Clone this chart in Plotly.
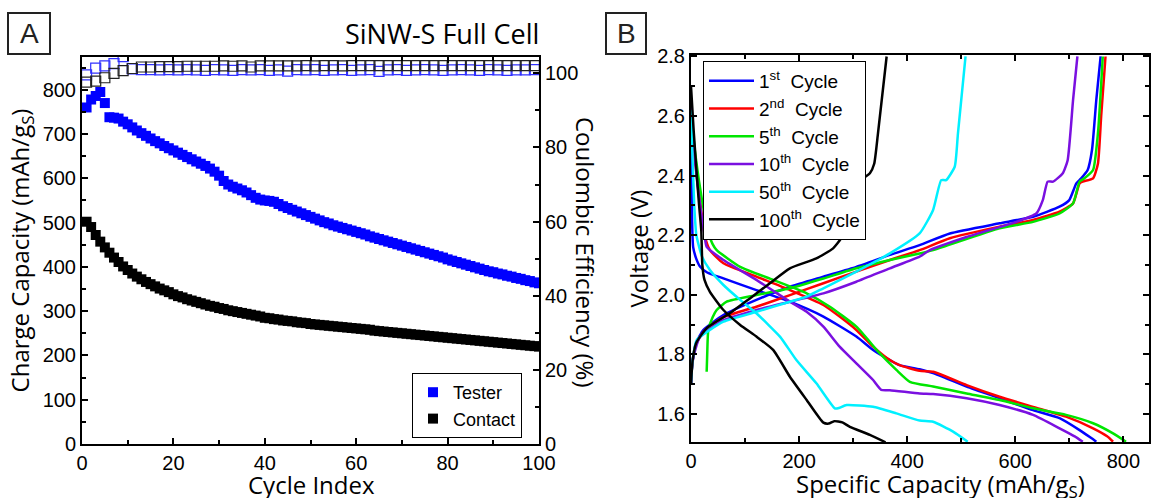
import plotly.graph_objects as go

W, H = 1151, 498

# ---------------- Panel A data ----------------
cycles = list(range(1, 101))
tester_capacity = [
    760, 778, 786, 795, 770, 738, 737, 735, 728, 722,
    715, 708, 702, 696, 690, 684, 679, 673, 668, 663,
    658, 653, 648, 643, 638, 633, 628, 622, 615, 606,
    594, 586, 581, 577, 573, 568, 562, 556, 552, 550,
    549, 547, 542, 537, 533, 529, 525, 521, 517, 513,
    509, 505, 501, 498, 494, 491, 488, 485, 482, 479,
    476, 473, 469, 466, 463, 460, 457, 454, 451, 448,
    445, 442, 439, 436, 433, 430, 427, 424, 421, 417,
    414, 411, 408, 405, 402, 399, 396, 393, 390, 388,
    385, 383, 380, 378, 375, 373, 370, 368, 365, 363,
]
contact_capacity = [
    502, 490, 472, 457, 444, 432, 421, 411, 401, 393,
    385, 378, 372, 366, 361, 356, 351, 347, 343, 338,
    334, 331, 327, 324, 321, 318, 315, 312, 310, 307,
    305, 302, 300, 298, 296, 294, 292, 290, 288, 285,
    284, 282, 281, 279, 278, 277, 275, 274, 273, 271,
    270, 269, 268, 267, 266, 265, 264, 263, 262, 261,
    260, 259, 258, 256, 255, 254, 253, 252, 251, 250,
    249, 248, 247, 246, 245, 244, 243, 242, 241, 240,
    239, 238, 237, 236, 235, 234, 233, 232, 231, 230,
    229, 228, 227, 226, 225, 224, 223, 222, 221, 220,
]
ce_cycles = list(range(1, 101, 2))
tester_ce = [
    99.6, 101.4, 102.0, 102.6, 104.5, 101.2, 101.0, 101.0, 100.9, 101.0,
    100.9, 101.0, 100.9, 100.8, 101.0, 100.9, 100.8, 101.0, 100.9, 101.0,
    100.8, 100.9, 100.6, 101.0, 100.9, 101.0, 100.8, 100.9, 101.0, 100.8,
    100.9, 101.0, 100.5, 100.9, 101.0, 100.8, 100.9, 101.0, 100.9, 100.8,
    100.9, 101.0, 100.9, 100.8, 101.0, 100.9, 100.8, 100.9, 100.9, 101.0,
]
contact_ce = [
    97.6, 97.9, 98.8, 100.0, 100.7, 101.3, 101.7, 101.7, 101.8, 101.8,
    101.8, 101.9, 101.9, 101.9, 101.9, 102.0, 101.9, 102.0, 101.7, 102.0,
    102.0, 102.0, 102.0, 102.0, 102.1, 102.0, 102.1, 102.1, 102.0, 102.1,
    102.1, 102.1, 102.1, 102.1, 102.1, 102.1, 102.1, 102.1, 102.1, 102.1,
    102.1, 102.1, 102.1, 102.1, 102.1, 102.1, 102.1, 102.1, 102.1, 102.1,
]

# ---------------- Panel B data (voltage profiles) ----------------
c1_dis_cap = [0, 1, 2, 4, 10, 17, 30, 60, 121, 183, 245, 306, 337, 368, 386, 423, 448, 510, 571, 633, 682, 719, 740, 750]
c1_dis_v = [2.65, 2.45, 2.25, 2.16, 2.12, 2.094, 2.075, 2.055, 2.016, 1.977, 1.927, 1.86, 1.815, 1.781, 1.764, 1.75, 1.737, 1.692, 1.653, 1.613, 1.586, 1.546, 1.52, 1.507]
c1_chg_cap = [0, 1, 4.3, 10, 22.7, 60, 121, 183, 245, 306, 368, 423, 479, 571, 633, 682, 700, 713, 722, 734, 742, 750, 758]
c1_chg_v = [1.70, 1.74, 1.792, 1.84, 1.882, 1.932, 1.983, 2.027, 2.061, 2.094, 2.134, 2.167, 2.206, 2.24, 2.262, 2.296, 2.318, 2.374, 2.391, 2.419, 2.486, 2.654, 2.80]

c2_dis_cap = [0, 5, 12, 20, 26, 35, 60, 121, 183, 245, 275, 306, 337, 368, 386, 423, 448, 510, 571, 633, 694, 744, 770, 781]
c2_dis_v = [2.65, 2.50, 2.38, 2.27, 2.195, 2.15, 2.106, 2.061, 2.016, 1.966, 1.927, 1.882, 1.826, 1.781, 1.764, 1.745, 1.742, 1.697, 1.658, 1.624, 1.591, 1.552, 1.525, 1.507]
c2_chg_cap = [0, 2, 8, 25, 60, 121, 183, 245, 306, 368, 423, 479, 571, 633, 682, 707, 719, 725, 744, 753, 759, 767]
c2_chg_v = [1.70, 1.76, 1.83, 1.88, 1.925, 1.96, 1.999, 2.039, 2.078, 2.117, 2.15, 2.19, 2.229, 2.251, 2.279, 2.307, 2.374, 2.38, 2.391, 2.44, 2.60, 2.80]

c5_dis_cap = [0, 5, 15, 25, 31, 40, 47.5, 91, 152, 214, 257, 306, 349, 380, 405, 448, 510, 571, 633, 694, 744, 781, 805]
c5_dis_v = [2.65, 2.52, 2.38, 2.27, 2.217, 2.17, 2.15, 2.094, 2.05, 2.005, 1.96, 1.893, 1.804, 1.748, 1.708, 1.692, 1.669, 1.647, 1.619, 1.597, 1.569, 1.535, 1.507]
c5_chg_cap = [29, 30, 32, 40, 47.5, 66, 121, 183, 245, 306, 368, 423, 448, 571, 633, 682, 707, 719, 728, 744, 753, 762]
c5_chg_v = [1.742, 1.80, 1.882, 1.925, 1.949, 1.977, 1.999, 2.022, 2.055, 2.089, 2.117, 2.139, 2.15, 2.223, 2.245, 2.273, 2.307, 2.38, 2.391, 2.419, 2.542, 2.80]

c10_dis_cap = [0, 5, 12, 20, 25, 29, 60, 121, 183, 214, 245, 275, 306, 337, 352, 368, 423, 448, 510, 571, 633, 682, 710, 725]
c10_dis_v = [2.65, 2.50, 2.37, 2.26, 2.20, 2.161, 2.117, 2.05, 1.977, 1.943, 1.893, 1.826, 1.77, 1.714, 1.681, 1.68, 1.669, 1.667, 1.653, 1.63, 1.597, 1.552, 1.525, 1.507]
c10_chg_cap = [0, 3, 16.6, 60, 121, 183, 245, 306, 368, 423, 442, 510, 602, 639, 651, 660, 670, 688, 697, 707, 715]
c10_chg_v = [1.70, 1.78, 1.859, 1.915, 1.949, 1.977, 2.005, 2.044, 2.089, 2.128, 2.15, 2.194, 2.245, 2.273, 2.318, 2.38, 2.38, 2.408, 2.452, 2.654, 2.80]

c50_dis_cap = [0, 3, 6, 10, 20, 35, 60, 91, 121, 165, 195, 232, 266, 272, 288, 337, 380, 423, 448, 485, 512]
c50_dis_v = [2.62, 2.45, 2.30, 2.20, 2.13, 2.083, 2.033, 1.983, 1.938, 1.859, 1.781, 1.703, 1.619, 1.619, 1.63, 1.624, 1.602, 1.578, 1.574, 1.541, 1.507]
c50_chg_cap = [0, 3, 10.5, 60, 121, 183, 214, 245, 306, 368, 423, 448, 463, 472, 488, 494, 508]
c50_chg_v = [1.70, 1.78, 1.848, 1.91, 1.943, 1.977, 1.994, 2.022, 2.078, 2.139, 2.206, 2.285, 2.385, 2.385, 2.43, 2.542, 2.80]

c100_dis_cap = [0, 5, 10, 15, 19, 21, 25, 35, 60, 91, 121, 152, 183, 214, 245, 255, 265, 280, 294, 331, 360]
c100_dis_v = [2.70, 2.55, 2.42, 2.30, 2.217, 2.10, 2.05, 2.01, 1.949, 1.899, 1.86, 1.815, 1.725, 1.647, 1.571, 1.568, 1.576, 1.572, 1.557, 1.53, 1.505]
c100_chg_cap = [0, 3, 10, 30, 72, 109, 146, 183, 232, 263, 278, 283, 300, 315, 331, 339, 346, 362]
c100_chg_v = [1.70, 1.78, 1.84, 1.89, 1.938, 1.988, 2.039, 2.089, 2.122, 2.156, 2.19, 2.217, 2.307, 2.385, 2.408, 2.44, 2.542, 2.80]

cycle_labels = ["1<sup>st</sup>  Cycle", "2<sup>nd</sup>  Cycle", "5<sup>th</sup>  Cycle",
                "10<sup>th</sup>  Cycle", "50<sup>th</sup>  Cycle", "100<sup>th</sup>  Cycle"]
cycle_colors = ["#0000FF", "#FF0000", "#00E600", "#7A10E0", "#00F0FF", "#000000"]
profiles = [
    (c1_dis_cap, c1_dis_v, c1_chg_cap, c1_chg_v),
    (c2_dis_cap, c2_dis_v, c2_chg_cap, c2_chg_v),
    (c5_dis_cap, c5_dis_v, c5_chg_cap, c5_chg_v),
    (c10_dis_cap, c10_dis_v, c10_chg_cap, c10_chg_v),
    (c50_dis_cap, c50_dis_v, c50_chg_cap, c50_chg_v),
    (c100_dis_cap, c100_dis_v, c100_chg_cap, c100_chg_v),
]

TICKF = "Liberation Sans, Arial, sans-serif"
TITLEF = "Open Sans, sans-serif"

fig = go.Figure()

# CE (open squares) on right axis
fig.add_trace(go.Scatter(x=ce_cycles, y=tester_ce, mode="markers", xaxis="x", yaxis="y2",
                         marker=dict(symbol="square-open", size=10, color="#3030FF", line=dict(width=1.2)),
                         showlegend=False))
fig.add_trace(go.Scatter(x=ce_cycles, y=contact_ce, mode="markers", xaxis="x", yaxis="y2",
                         marker=dict(symbol="square-open", size=10, color="#222222", line=dict(width=1.2)),
                         showlegend=False))
# capacity
fig.add_trace(go.Scatter(x=cycles, y=tester_capacity, mode="markers", name="Tester", xaxis="x", yaxis="y",
                         marker=dict(symbol="square", size=10, color="#0000FF"), legend="legend"))
fig.add_trace(go.Scatter(x=cycles, y=contact_capacity, mode="markers", name="Contact", xaxis="x", yaxis="y",
                         marker=dict(symbol="square", size=10, color="#000000"), legend="legend"))

# Panel B
for (dc, dv, cc, cv), lab, col in zip(profiles, cycle_labels, cycle_colors):
    fig.add_trace(go.Scatter(x=list(dc) + [None] + list(cc), y=list(dv) + [None] + list(cv),
                             mode="lines", name=lab, xaxis="x2", yaxis="y3",
                             line=dict(color=col, width=2.5, shape="spline", smoothing=0.5),
                             legend="legend2"))

def px(x):
    return x / W

def py(y):
    return 1 - y / H

axis_common = dict(showline=True, linewidth=2, linecolor="black", showgrid=False, zeroline=False,
                   ticks="inside", tickwidth=2, ticklen=6, tickcolor="black", automargin=False,
                   tickfont=dict(family=TICKF, size=20, color="black"))
TS = 24

fig.update_layout(
    width=W, height=H, margin=dict(l=0, r=0, t=0, b=0, autoexpand=False),
    paper_bgcolor="white", plot_bgcolor="white",
    xaxis=dict(domain=[px(82), px(539)], range=[0, 100], dtick=20, anchor="y", mirror="ticks",
               minor=dict(dtick=10, ticks="inside", ticklen=4, tickwidth=2, tickcolor="black"),
               **axis_common),
    yaxis=dict(domain=[py(444), py(57)], range=[0, 874], dtick=100, anchor="x",
               minor=dict(dtick=50, ticks="inside", ticklen=4, tickwidth=2, tickcolor="black"),
               title=dict(text="Charge Capacity (mAh/g<sub>S</sub>)", font=dict(family=TITLEF, size=TS, color="black"), standoff=6),
               **axis_common),
    yaxis2=dict(domain=[py(444), py(57)], range=[0, 104.4], dtick=20, anchor="x", overlaying="y", side="right",
                minor=dict(dtick=10, ticks="inside", ticklen=4, tickwidth=2, tickcolor="black"),
                **axis_common),
    xaxis2=dict(domain=[px(691), px(1149)], range=[0, 847.5], dtick=200, anchor="y3", mirror="ticks",
                minor=dict(dtick=100, ticks="inside", ticklen=4, tickwidth=2, tickcolor="black"),
                **axis_common),
    yaxis3=dict(domain=[py(442), py(55)], range=[1.506, 2.805], tick0=1.6, dtick=0.2, anchor="x2", mirror="ticks",
                tickformat=".1f",
                minor=dict(dtick=0.1, tick0=1.5, ticks="inside", ticklen=4, tickwidth=2, tickcolor="black"),
                title=dict(text="Voltage (V)", font=dict(family=TITLEF, size=TS, color="black"), standoff=2),
                **axis_common),
    legend=dict(x=px(522), xanchor="right", y=py(373), yanchor="top", bgcolor="white",
                bordercolor="black", borderwidth=1, font=dict(family=TICKF, size=18, color="black"),
                itemsizing="trace", tracegroupgap=0),
    legend2=dict(x=px(703), xanchor="left", y=py(61), yanchor="top", bgcolor="white",
                 bordercolor="black", borderwidth=1, font=dict(family=TICKF, size=19, color="black"),
                 itemwidth=45, tracegroupgap=0),
    showlegend=True,
)

# x axis titles
fig.add_annotation(x=px(311), y=py(484), xref="paper", yref="paper", text="Cycle Index",
                   showarrow=False, xanchor="center", yanchor="middle",
                   font=dict(family=TITLEF, size=TS, color="black"))
fig.add_annotation(x=px(940), y=py(485), xref="paper", yref="paper", text="Specific Capacity (mAh/g<sub>S</sub>)",
                   showarrow=False, xanchor="center", yanchor="middle",
                   font=dict(family=TITLEF, size=TS, color="black"))
# right axis title (reads top to bottom)
fig.add_annotation(x=px(585), y=py(252), xref="paper", yref="paper", text="Coulombic Efficiency (%)",
                   textangle=90, showarrow=False, font=dict(family=TITLEF, size=TS, color="black"))
# chart title
fig.add_annotation(x=px(541), y=py(33), xref="paper", yref="paper", text="SiNW-S Full Cell",
                   xanchor="right", yanchor="middle", showarrow=False,
                   font=dict(family=TITLEF, size=27, color="black"))
# panel labels
for lab, x0, x1 in [("A", 8, 50), ("B", 606, 646)]:
    fig.add_shape(type="rect", xref="paper", yref="paper", x0=px(x0), x1=px(x1), y0=py(54), y1=py(13),
                  line=dict(color="#222222", width=2), fillcolor="rgba(0,0,0,0)")
    fig.add_annotation(x=px((x0 + x1) / 2), y=py(33.5), xref="paper", yref="paper", text=lab,
                       showarrow=False, xanchor="center", yanchor="middle",
                       font=dict(family=TICKF, size=28, color="#222222"))

fig.write_html("out.html")
